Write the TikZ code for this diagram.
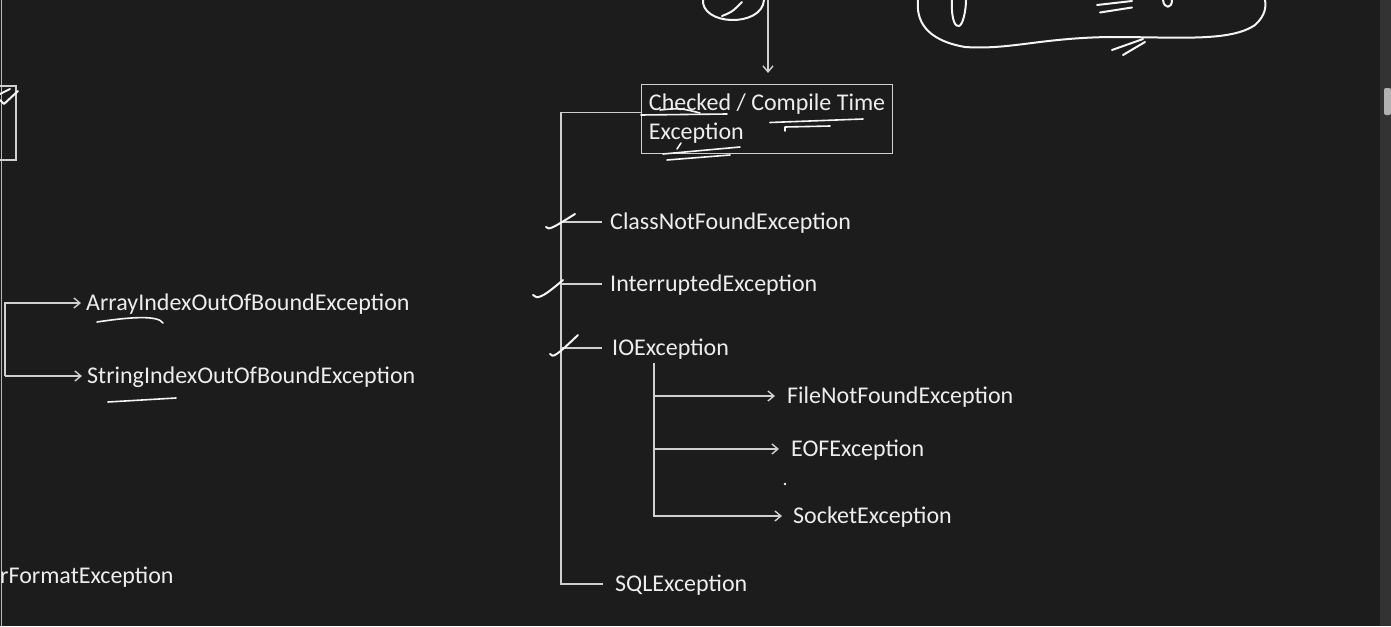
\documentclass[tikz,border=0pt]{standalone}
\usepackage{fontspec}
\setmainfont{Carlito}
\usetikzlibrary{arrows.meta,positioning}
\definecolor{boardBg}{HTML}{1C1C1C}
\definecolor{chalkLine}{HTML}{D0D0D0}
\definecolor{chalkText}{HTML}{EDEDED}
\definecolor{penInk}{HTML}{F4F4F4}

\begin{document}
\begin{tikzpicture}[
  x=1pt, y=-1pt,
  font=\fontsize{24}{29}\selectfont,
  exname/.style={anchor=west, inner sep=0pt, text height=16pt, text depth=2pt, text=chalkText},
  catbox/.style={draw=chalkLine, line width=1.2pt, anchor=north west, minimum width=251pt, minimum height=69pt, inner xsep=6pt, inner ysep=2pt, align=left, text=chalkText},
  branch/.style={draw=chalkLine, line width=1.4pt},
  arrow/.style={branch, -{Straight Barb[length=6pt, width=10pt]}},
  ink/.style={draw=penInk, line width=2pt, line cap=round, line join=round}
]
\fill[boardBg] (0,0) rectangle (1391,626);
\useasboundingbox (0,0) rectangle (1391,626);
\fill[black!80!white] (1380,0) rectangle (1391,626);
\fill[gray!60, rounded corners=2pt] (1384,88) rectangle (1391,115);
\draw[gray!55, line width=1pt] (1.5,0) -- (1.5,626);

% checked exceptions
\node[catbox] (ctbox) at (641,84) {Checked / Compile Time\\Exception};
\node[exname] (cnf)  at (610,222) {ClassNotFoundException};
\node[exname] (intr) at (610,284) {InterruptedException};
\node[exname] (ioe)  at (612,348) {IOException};
\node[exname] (sql)  at (615,584) {SQLException};
\node[exname] (fnf)  at (787,396) {FileNotFoundException};
\node[exname] (eof)  at (791,449) {EOFException};
\node[exname] (sock) at (793,516) {SocketException};

% unchecked side (cut off at the left)
\node[exname] (aioobe) at (86,303) {ArrayIndexOutOfBoundException};
\node[exname] (sioobe) at (87,376) {StringIndexOutOfBoundException};
\node[exname] (nfe)    at (0,576) {rFormatException};

\coordinate (fromTop) at (768,0);
\coordinate (trunkTop) at (561,112.7);
\coordinate (trunkEnd) at (561,584);
\coordinate (ioTop) at (654,363);
\coordinate (leftTop) at (5,303);

\draw[arrow, shorten >=11pt] (fromTop) -- (ctbox.north -| fromTop);
\draw[branch, shorten >=12pt] (ctbox.west |- trunkTop) -| (trunkEnd) -- (sql.west);
\foreach \n/\gap in {cnf/8pt, intr/8pt, ioe/10pt}
  \draw[branch, shorten >=\gap] (trunkTop |- \n.west) -- (\n.west);

\draw[arrow, shorten >=11pt] (ioTop) |- (sock.west);
\foreach \n in {fnf, eof}
  \draw[arrow, shorten >=12pt] (ioTop |- \n.west) -- (\n.west);

\draw[arrow, shorten >=5pt] (sioobe.west -| leftTop) |- (aioobe.west);
\draw[arrow, shorten >=5pt] (sioobe.west -| leftTop) -- (sioobe.west);

% partial box at the left edge
\draw[chalkLine, line width=1.2pt] (0,86) -| (16,160) -- (0,160);

% hand annotations
\draw[ink] (703,-2) .. controls (699,26) and (762,28) .. (764,0);
\draw[ink] (722,16) .. controls (732,12) .. (742,2);
\draw[ink] (918,0) .. controls (916,20) and (925,40) .. (965,47)
  .. controls (1010,50) and (1040,38) .. (1110,37)
  .. controls (1180,37) and (1230,42) .. (1255,25)
  .. controls (1266,15) and (1266,6) .. (1265,0);
\draw[ink] (952,0) .. controls (951,22) and (956,27) .. (959,26) .. controls (963,25) and (966,10) .. (966,0);
\draw[ink] (1097,5) -- (1132,1);
\draw[ink] (1100,12.5) -- (1132,7.5);
\draw[ink] (1163,0) .. controls (1164,9) and (1172,9) .. (1172,0);
\draw[ink] (1112,50) -- (1143,39);
\draw[ink] (1123,55) -- (1145,42);

\draw[ink] (0,100) -- (4,104) -- (18,91);
\draw[ink] (0,94) -- (10,89);

\draw[ink, line width=1.6pt] (641,115) -- (727,114);
\draw[ink, line width=1.6pt] (660,110) .. controls (680,108) .. (700,113);
\draw[ink, line width=1.6pt] (770,122.5) -- (863,119);
\draw[ink, line width=1.6pt] (785,131) -- (785,127) -- (830,126);
\draw[ink, line width=1.6pt] (663,154) -- (740,147);
\draw[ink, line width=1.6pt] (667,160) -- (730,155);
\draw[ink, line width=1.6pt] (677,149) -- (681,143);

\draw[ink] (546,227) .. controls (549,230) and (551,229) .. (575,214);
\draw[ink] (533,295) .. controls (537,299) and (541,299) .. (563,280);
\draw[ink] (550,354) .. controls (553,358) and (556,356) .. (578,335);

\draw[ink, line width=1.6pt] (97,322) .. controls (130,317) and (158,315) .. (163,323);
\draw[ink, line width=1.6pt] (108,402) -- (176,398);
\fill[penInk] (785,484) circle (1.3pt);
\end{tikzpicture}
\end{document}
